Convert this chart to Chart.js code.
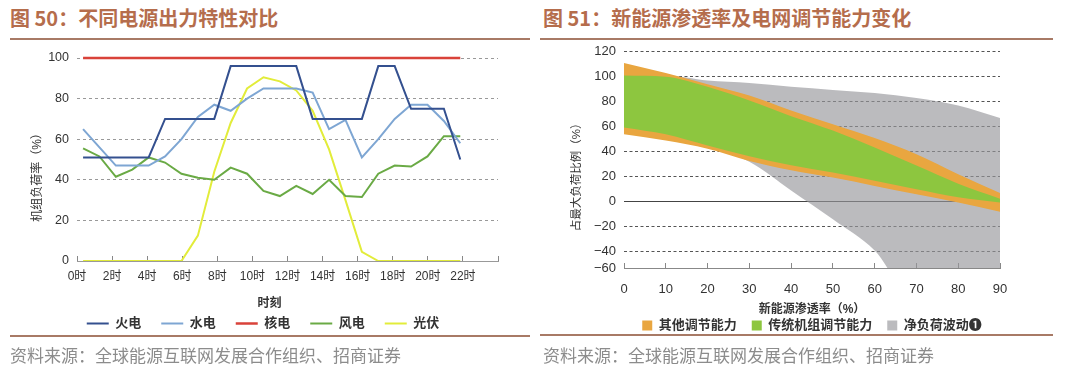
<!DOCTYPE html>
<html lang="zh-CN">
<head>
<meta charset="utf-8">
<title>不同电源出力特性对比 / 新能源渗透率及电网调节能力变化</title>
<script src="https://cdn.jsdelivr.net/npm/chart.js@4.4.1/dist/chart.umd.min.js"></script>
<style>
  body { margin: 0; background: #fff; }
  #page { position: relative; width: 1065px; height: 376px; overflow: hidden; font-family: 'Noto Sans CJK SC', sans-serif; }
  .fig-title { position: absolute; top: 6px; font-size: 20px; line-height: 24px; font-weight: bold; color: #b56d4c; white-space: nowrap; }
  .rule { position: absolute; height: 2px; background: #a87a66; }
  .source { position: absolute; top: 344px; font-size: 17px; line-height: 22px; color: #8c8c8c; white-space: nowrap; }
  canvas { position: absolute; }
</style>
</head>
<body>
<div id="page">
  <div class="fig-title" style="left:10px">图 50：不同电源出力特性对比</div>
  <div class="rule" style="left:10px; top:38px; width:520px"></div>
  <canvas id="mixChart" width="530" height="300" style="left:0; top:40px"></canvas>
  <div class="rule" style="left:10px; top:335px; width:520px"></div>
  <div class="source" style="left:10px">资料来源：全球能源互联网发展合作组织、招商证券</div>

  <div class="fig-title" style="left:543px">图 51：新能源渗透率及电网调节能力变化</div>
  <div class="rule" style="left:540px; top:38px; width:513px"></div>
  <canvas id="flexChart" width="535" height="306" style="left:530px; top:36px"></canvas>
  <div class="rule" style="left:540px; top:334px; width:513px"></div>
  <div class="source" style="left:543px">资料来源：全球能源互联网发展合作组织、招商证券</div>
</div>

<script>
// 图50：逐时机组负荷率（%）
const hours = [0, 1, 2, 3, 4, 5, 6, 7, 8, 9, 10, 11, 12, 13, 14, 15, 16, 17, 18, 19, 20, 21, 22, 23];
const hourTicks = ['0时', '2时', '4时', '6时', '8时', '10时', '12时', '14时', '16时', '18时', '20时', '22时'];
const thermal = [51, 51, 51, 51, 51, 70, 70, 70, 70, 96, 96, 96, 96, 96, 70, 70, 70, 70, 96, 96, 75, 75, 75, 50];
const hydro = [65, 56, 47, 47, 47, 51.5, 60, 71, 77, 74, 80, 85, 85, 85, 83, 65, 69.5, 51, 60, 70, 77, 77, 69, 58];
const nuclear = [100, 100, 100, 100, 100, 100, 100, 100, 100, 100, 100, 100, 100, 100, 100, 100, 100, 100, 100, 100, 100, 100, 100, 100];
const wind = [55.5, 51.5, 41.5, 45, 51, 48.5, 43, 41, 40, 46, 43, 34.5, 32, 37, 33, 40, 32, 31.5, 43, 47, 46.5, 51.5, 61.5, 61.5];
const solar = [0, 0, 0, 0, 0, 0, 0, 12.5, 44, 68, 85, 90.5, 88.5, 84, 74, 55, 30, 4.5, 0, 0, 0, 0, 0, 0];

// 图51：新能源渗透率（%）与占最大负荷比例（%）
const penetration = [0, 10, 20, 30, 40, 50, 60, 70, 80, 90];
const otherUpper = [111, 103, 94, 85, 73, 62, 51, 38, 22, 7];
const otherLower = [54, 49, 42.5, 32.7, 25.3, 19.4, 12.7, 6, -0.5, -8];
const unitUpper = [101, 100, 92, 81, 68.5, 57, 43.5, 29, 14.5, 2.5];
const unitLower = [59.5, 54, 45, 36.4, 29.3, 23.4, 16.8, 10.1, 3.7, -0.5];
const netUpper = [100, 101, 97, 95, 92, 89.5, 87, 83, 77, 67];
const netLower = [56, 50, 44, 32, 9, -14, -39, -80, -80, -80];
const loadTicks = [-60, -40, -20, 0, 20, 40, 60, 80, 100, 120];
const axisFloor = -53; // the source draws its "-60" floor closer than the other steps

Chart.defaults.font.family = "'Liberation Sans', 'Noto Sans CJK SC', sans-serif";
Chart.defaults.color = '#333';
Chart.defaults.animation = false;
Chart.defaults.plugins.tooltip.enabled = false;

function series(label, data, color, width) {
    return {
        label: label,
        data: data,
        borderColor: color,
        backgroundColor: color,
        borderWidth: width || 2,
        pointRadius: 0,
        tension: 0,
        xAxisID: 'xd'
    };
}

new Chart(document.getElementById('mixChart'), {
    type: 'line',
    data: {
        labels: hours,
        datasets: [
            series('火电', thermal, '#34508f'),
            series('水电', hydro, '#7ea6d3'),
            Object.assign(series('核电', nuclear, '#d9423a', 2.5), { clip: false }),
            series('风电', wind, '#6aaa45'),
            series('光伏', solar, '#e2ec3a')
        ]
    },
    options: {
        responsive: false,
        layout: { padding: { left: 28, right: 32, top: 18, bottom: 0 } },
        plugins: {
            legend: {
                position: 'bottom',
                labels: {
                    usePointStyle: true,
                    pointStyle: 'line',
                    pointStyleWidth: 22,
                    padding: 20,
                    color: '#333',
                    font: { size: 13, weight: 'bold' }
                }
            }
        },
        scales: {
            xd: { type: 'linear', axis: 'x', display: false, min: -0.37, max: 25.3 },
            x: {
                type: 'linear',
                min: 0,
                max: 24,
                afterFit: s => { s.height = 36; },
                grid: { drawOnChartArea: false, tickLength: -5, color: '#888' },
                border: { color: '#999' },
                ticks: {
                    stepSize: 2,
                    padding: 13,
                    maxRotation: 0,
                    autoSkip: false,
                    font: { size: 12 },
                    callback: v => hourTicks[v / 2] || ''
                },
                title: {
                    display: true,
                    text: '时刻\u3000\u3000\u3000',
                    font: { size: 12, weight: 'bold' },
                    padding: { top: 0, bottom: -14.2 }
                }
            },
            y: {
                min: 0,
                max: 100,
                afterFit: s => { s.width = 49; },
                grid: {
                    drawTicks: false,
                    color: c => c.tick.value === 0 ? 'transparent' : '#999'
                },
                border: { display: false, dash: [3, 3] },
                ticks: { stepSize: 20, padding: 8, font: { size: 12.5 } },
                title: {
                    display: true,
                    text: '机组负荷率（%）\u3000\u3000\u3000',
                    font: { size: 12 },
                    padding: { top: 2, bottom: 0 }
                }
            }
        }
    }
});

function band(label, data, color, order) {
    return {
        label: label,
        data: data,
        order: order,
        fill: '+1',
        backgroundColor: color,
        borderColor: 'transparent',
        pointRadius: 0,
        cubicInterpolationMode: 'monotone'
    };
}

function edge(data, order) {
    return {
        data: data,
        order: order,
        fill: false,
        borderColor: 'transparent',
        pointRadius: 0,
        cubicInterpolationMode: 'monotone'
    };
}

new Chart(document.getElementById('flexChart'), {
    type: 'line',
    data: {
        labels: penetration,
        datasets: [
            band('其他调节能力', otherUpper, '#e9a640', 1), edge(otherLower, 1),
            band('传统机组调节能力', unitUpper, '#8dc63f', 0), edge(unitLower, 0),
            band('净负荷波动❶', netUpper, 'rgba(150,150,155,0.65)', 2), edge(netLower, 2)
        ]
    },
    options: {
        responsive: false,
        layout: { padding: { left: 30, right: 65, top: 6.6, bottom: 0 } },
        plugins: {
            legend: {
                position: 'bottom',
                fullSize: false,
                labels: {
                    boxWidth: 10,
                    boxHeight: 10,
                    padding: 15,
                    color: '#333',
                    font: { size: 13, weight: 'bold' },
                    filter: item => item.text,
                    sort: (a, b) => a.datasetIndex - b.datasetIndex
                }
            }
        },
        scales: {
            x: {
                afterFit: s => { s.height = 36; },
                grid: { drawOnChartArea: false, tickLength: -5, color: '#888' },
                border: { color: '#888' },
                ticks: { padding: 18.5, maxRotation: 0, autoSkip: false, font: { size: 13 } },
                title: {
                    display: true,
                    text: '新能源渗透率（%）',
                    font: { size: 12, weight: 'bold' },
                    padding: { top: 0, bottom: -12.7 }
                }
            },
            y: {
                min: axisFloor,
                max: 120,
                afterFit: s => { s.width = 64; },
                afterBuildTicks: s => {
                    s.ticks = loadTicks.map(v => ({ value: Math.max(v, axisFloor) }));
                },
                grid: {
                    drawTicks: false,
                    color: c => c.tick.value === 0 ? '#444' : (c.tick.value <= axisFloor ? 'transparent' : '#555')
                },
                border: {
                    display: false,
                    dash: c => (c.tick && c.tick.value === 0) ? [] : [3, 2.5]
                },
                ticks: {
                    padding: 8,
                    autoSkip: false,
                    font: { size: 13 },
                    callback: (v, i) => String(loadTicks[i]).replace('-', '\u2212')
                },
                title: {
                    display: true,
                    text: '占最大负荷比例（%）\u3000\u3000\u3000',
                    font: { size: 11.5 },
                    padding: { top: 10, bottom: 0 }
                }
            }
        }
    }
});
</script>
</body>
</html>
